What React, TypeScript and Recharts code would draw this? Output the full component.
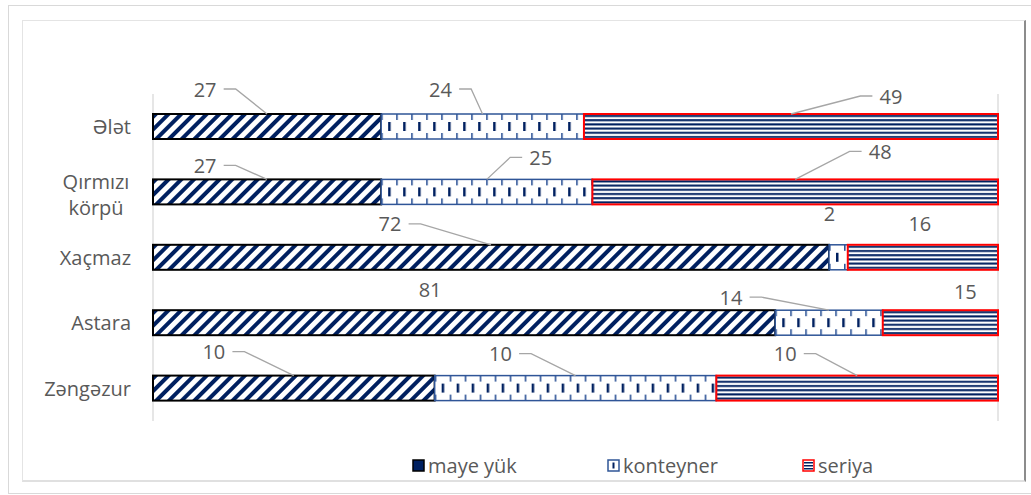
import React from "react";
import { BarChart, Bar, XAxis, YAxis, CartesianGrid, LabelList } from "recharts";

const categories = ["Ələt", "Qırmızı körpü", "Xaçmaz", "Astara", "Zəngəzur"];
const mayeYuk = [27, 27, 72, 81, 10];
const konteyner = [24, 25, 2, 14, 10];
const seriya = [49, 48, 16, 15, 10];
const seriesNames = { maye: "maye yük", konteyner: "konteyner", seriya: "seriya" };
const gridTicks = [0, 0.2, 0.4, 0.6, 0.8, 1];

const data = categories.map((name, i) => ({
  name,
  maye: mayeYuk[i],
  konteyner: konteyner[i],
  seriya: seriya[i],
}));

// label placement, relative to the top-centre of each segment: [dx, dy, leader line]
const labelPlacement: Record<string, [number, number, boolean][]> = {
  maye: [[-62, -25, true], [-62, -14, true], [-101, -21, true], [-34, -21, false], [-80, -24, true]],
  konteyner: [[-42, -25, true], [54, -22, true], [-9, -31, false], [-98, -13, true], [-75, -22, true]],
  seriya: [[100, -18, true], [85, -28, true], [-3, -21, false], [25, -19, false], [-72, -22, true]],
};

const NAVY = "#002060";
const TEXT = "#595959";
const FONT = "'Open Sans', 'Noto Sans', sans-serif";
const FS = 20;

const PatternDefs = () => (
  <defs>
    <pattern id="pat-maye" patternUnits="userSpaceOnUse" width="9" height="9" patternTransform="rotate(45)">
      <rect x="0" y="0" width="9" height="9" fill="#fff" />
      <rect x="0" y="0" width="4" height="9" fill={NAVY} />
    </pattern>
    <pattern id="pat-kont" patternUnits="userSpaceOnUse" width="15" height="25">
      <rect x="0" y="0" width="15" height="25" fill="#fff" />
      <rect x="0" y="0" width="1.6" height="6" fill="#2F5597" />
      <rect x="0" y="19" width="1.6" height="6" fill="#2F5597" />
      <rect x="7" y="8" width="2.5" height="9" fill={NAVY} />
    </pattern>
    <pattern id="pat-ser" patternUnits="userSpaceOnUse" width="8" height="4.2">
      <rect x="0" y="0" width="8" height="4.2" fill="#fff" />
      <rect x="0" y="1" width="8" height="2" fill={NAVY} />
    </pattern>
  </defs>
);

const makeShape = (patternId: string, stroke: string, strokeWidth: number) => (props: any) => {
  const { x, y, width, height } = props;
  if (!width || !height) return null;
  return (
    <g transform={`translate(${x},${y})`}>
      <rect x={0} y={0} width={width} height={height} fill={`url(#${patternId})`} stroke={stroke} strokeWidth={strokeWidth} />
    </g>
  );
};

const makeLabel = (key: string) => (props: any) => {
  const x = Number(props.x);
  const y = Number(props.y);
  const width = Number(props.width);
  const idx = Number(props.index);
  const place = labelPlacement[key][idx];
  if (!place) return null;
  const [dx, dy, leader] = place;
  const ax = x + width / 2;
  const ay = y;
  const tx = ax + dx;
  const ty = ay + dy;
  const half = String(props.value).length * 5.8;
  const s = dx < 0 ? 1 : -1;
  const p1 = tx + s * (half + 7);
  const p2 = tx + s * (half + 19);
  return (
    <g>
      {leader && (
        <polyline
          points={`${p1},${ty} ${p2},${ty} ${ax},${ay}`}
          fill="none"
          stroke="#a6a6a6"
          strokeWidth={1.3}
        />
      )}
      <text x={tx} y={ty} textAnchor="middle" dominantBaseline="central" fontSize={FS} fill={TEXT} fontFamily={FONT}>
        {props.value}
      </text>
    </g>
  );
};

const CategoryTick = (props: any) => {
  const { x, y, payload } = props;
  const words = String(payload.value).split(" ");
  const right = Number(x) - 14;
  if (words.length === 1) {
    return (
      <text x={right} y={y} textAnchor="end" dominantBaseline="central" fontSize={FS} fill={TEXT} fontFamily={FONT}>
        {payload.value}
      </text>
    );
  }
  const longest = Math.max(...words.map((w) => w.length));
  const cx = right - (longest * FS * 0.5) / 2;
  return (
    <g>
      {words.map((w, i) => (
        <text
          key={w}
          x={cx}
          y={Number(y) - 11 + i * 26}
          textAnchor="middle"
          dominantBaseline="central"
          fontSize={FS}
          fill={TEXT}
          fontFamily={FONT}
        >
          {w}
        </text>
      ))}
    </g>
  );
};

const LegendIcon = ({ kind }: { kind: string }) => {
  if (kind === "maye")
    return (
      <svg width={13} height={13}>
        <rect x={1} y={1} width={11} height={11} fill={NAVY} stroke="#000" strokeWidth={1.5} />
      </svg>
    );
  if (kind === "konteyner")
    return (
      <svg width={13} height={13}>
        <rect x={1} y={1} width={11} height={11} fill="#fff" stroke="#2F5597" strokeWidth={1.5} />
        <rect x={5.5} y={3.5} width={2} height={6} fill={NAVY} />
      </svg>
    );
  return (
    <svg width={13} height={13}>
      <rect x={1} y={1} width={11} height={11} fill="#fff" stroke="#ff0000" strokeWidth={1.5} />
      <rect x={2} y={3} width={9} height={1.5} fill={NAVY} />
      <rect x={2} y={6} width={9} height={1.5} fill={NAVY} />
      <rect x={2} y={9} width={9} height={1.5} fill={NAVY} />
    </svg>
  );
};

export default function App() {
  return (
    <div style={{ position: "absolute", left: 0, top: 0, width: 1031, height: 495, background: "#fff", overflow: "hidden" }}>
      <div style={{ position: "absolute", left: 8, top: 5, width: 1040, height: 487, border: "1px solid #d9d9d9" }} />
      <div
        style={{
          position: "absolute",
          left: 22,
          top: 20,
          width: 1001,
          height: 459,
          border: "1px solid #e4e4e4",
          borderRight: "2px solid #8c8c8c",
          borderBottom: "2px solid #e0e0e0",
        }}
      />
      <div style={{ position: "absolute", left: 0, top: 0 }}>
        <BarChart
          width={1031}
          height={495}
          data={data}
          layout="vertical"
          stackOffset="expand"
          barSize={25}
          margin={{ top: 94, right: 33, bottom: 74, left: 0 }}
        >
          <PatternDefs />
          <CartesianGrid horizontal={false} stroke="#d9d9d9" strokeWidth={1.3} />
          <XAxis type="number" domain={[0, 1]} ticks={gridTicks} tick={false} axisLine={false} tickLine={false} height={0} />
          <YAxis type="category" dataKey="name" width={153} axisLine={false} tickLine={false} tick={<CategoryTick />} />
          <Bar dataKey="maye" name={seriesNames.maye} stackId="a" isAnimationActive={false} shape={makeShape("pat-maye", "#000", 2)}>
            <LabelList dataKey="maye" content={makeLabel("maye")} />
          </Bar>
          <Bar dataKey="konteyner" name={seriesNames.konteyner} stackId="a" isAnimationActive={false} shape={makeShape("pat-kont", "#2F5597", 1.5)}>
            <LabelList dataKey="konteyner" content={makeLabel("konteyner")} />
          </Bar>
          <Bar dataKey="seriya" name={seriesNames.seriya} stackId="a" isAnimationActive={false} shape={makeShape("pat-ser", "#ff0000", 2)}>
            <LabelList dataKey="seriya" content={makeLabel("seriya")} />
          </Bar>
        </BarChart>
      </div>
      <div style={{ position: "absolute", left: 412, top: 452, display: "flex", fontFamily: FONT, fontSize: FS, color: TEXT }}>
        {(["maye", "konteyner", "seriya"] as const).map((k) => (
          <div key={k} style={{ width: 195, display: "flex", alignItems: "center", gap: 3 }}>
            <LegendIcon kind={k} />
            <span>{seriesNames[k]}</span>
          </div>
        ))}
      </div>
    </div>
  );
}
